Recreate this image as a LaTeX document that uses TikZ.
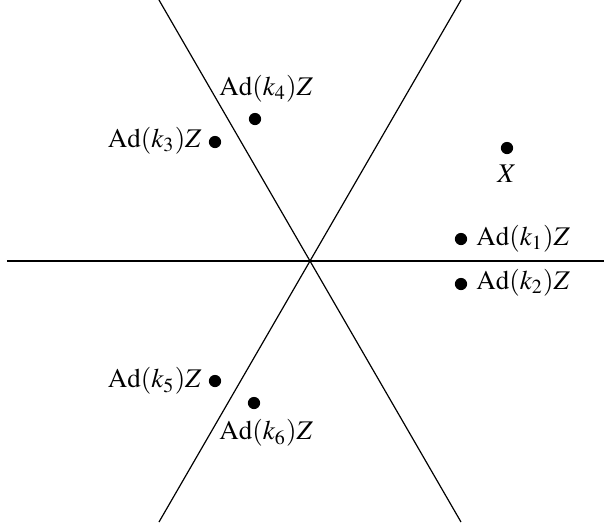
\documentclass[tikz,border=0pt]{standalone}
\usepackage{mathptmx}
\usepackage{fontspec}
\setmainfont{Liberation Serif}
\begin{document}
\begin{tikzpicture}[x=0.352pt,y=-0.352pt,
  dot/.style={circle,fill=black,inner sep=0pt,minimum size=4.3pt},
  lbl/.style={inner sep=1pt,font=\fontsize{9.5}{11}\selectfont},
  axis/.style={line width=0.42pt}]
\useasboundingbox (0,0) rectangle (604,530);
\coordinate (O) at (310,261);
\coordinate (h1) at (7,261);
\coordinate (h2) at (613,261);
\coordinate (a1) at (159,0);
\coordinate (a2) at (461,522);
\coordinate (b1) at (461,0);
\coordinate (b2) at (159,522);
\draw[axis] (h1) -- (h2);
\draw[axis] (a1) -- (a2);
\draw[axis] (b1) -- (b2);
\node[dot] (x) at (507,148) {};
\node[dot] (d1) at (461,239) {};
\node[dot] (d2) at (461,284) {};
\node[dot] (d3) at (215,142) {};
\node[dot] (d4) at (255,119) {};
\node[dot] (d5) at (215,381) {};
\node[dot] (d6) at (254,403) {};
\node[lbl] (lx) at (507,174) {$X$};
\node[lbl,anchor=west] (l1) at (473,239) {$\mathrm{Ad}(k_1)Z$};
\node[lbl,anchor=west] (l2) at (473,283) {$\mathrm{Ad}(k_2)Z$};
\node[lbl,anchor=east] (l3) at (205,141) {$\mathrm{Ad}(k_3)Z$};
\node[lbl,anchor=west] (l4) at (216,89) {$\mathrm{Ad}(k_4)Z$};
\node[lbl,anchor=east] (l5) at (205,381) {$\mathrm{Ad}(k_5)Z$};
\node[lbl,anchor=west] (l6) at (216,433) {$\mathrm{Ad}(k_6)Z$};
\end{tikzpicture}
\end{document}
